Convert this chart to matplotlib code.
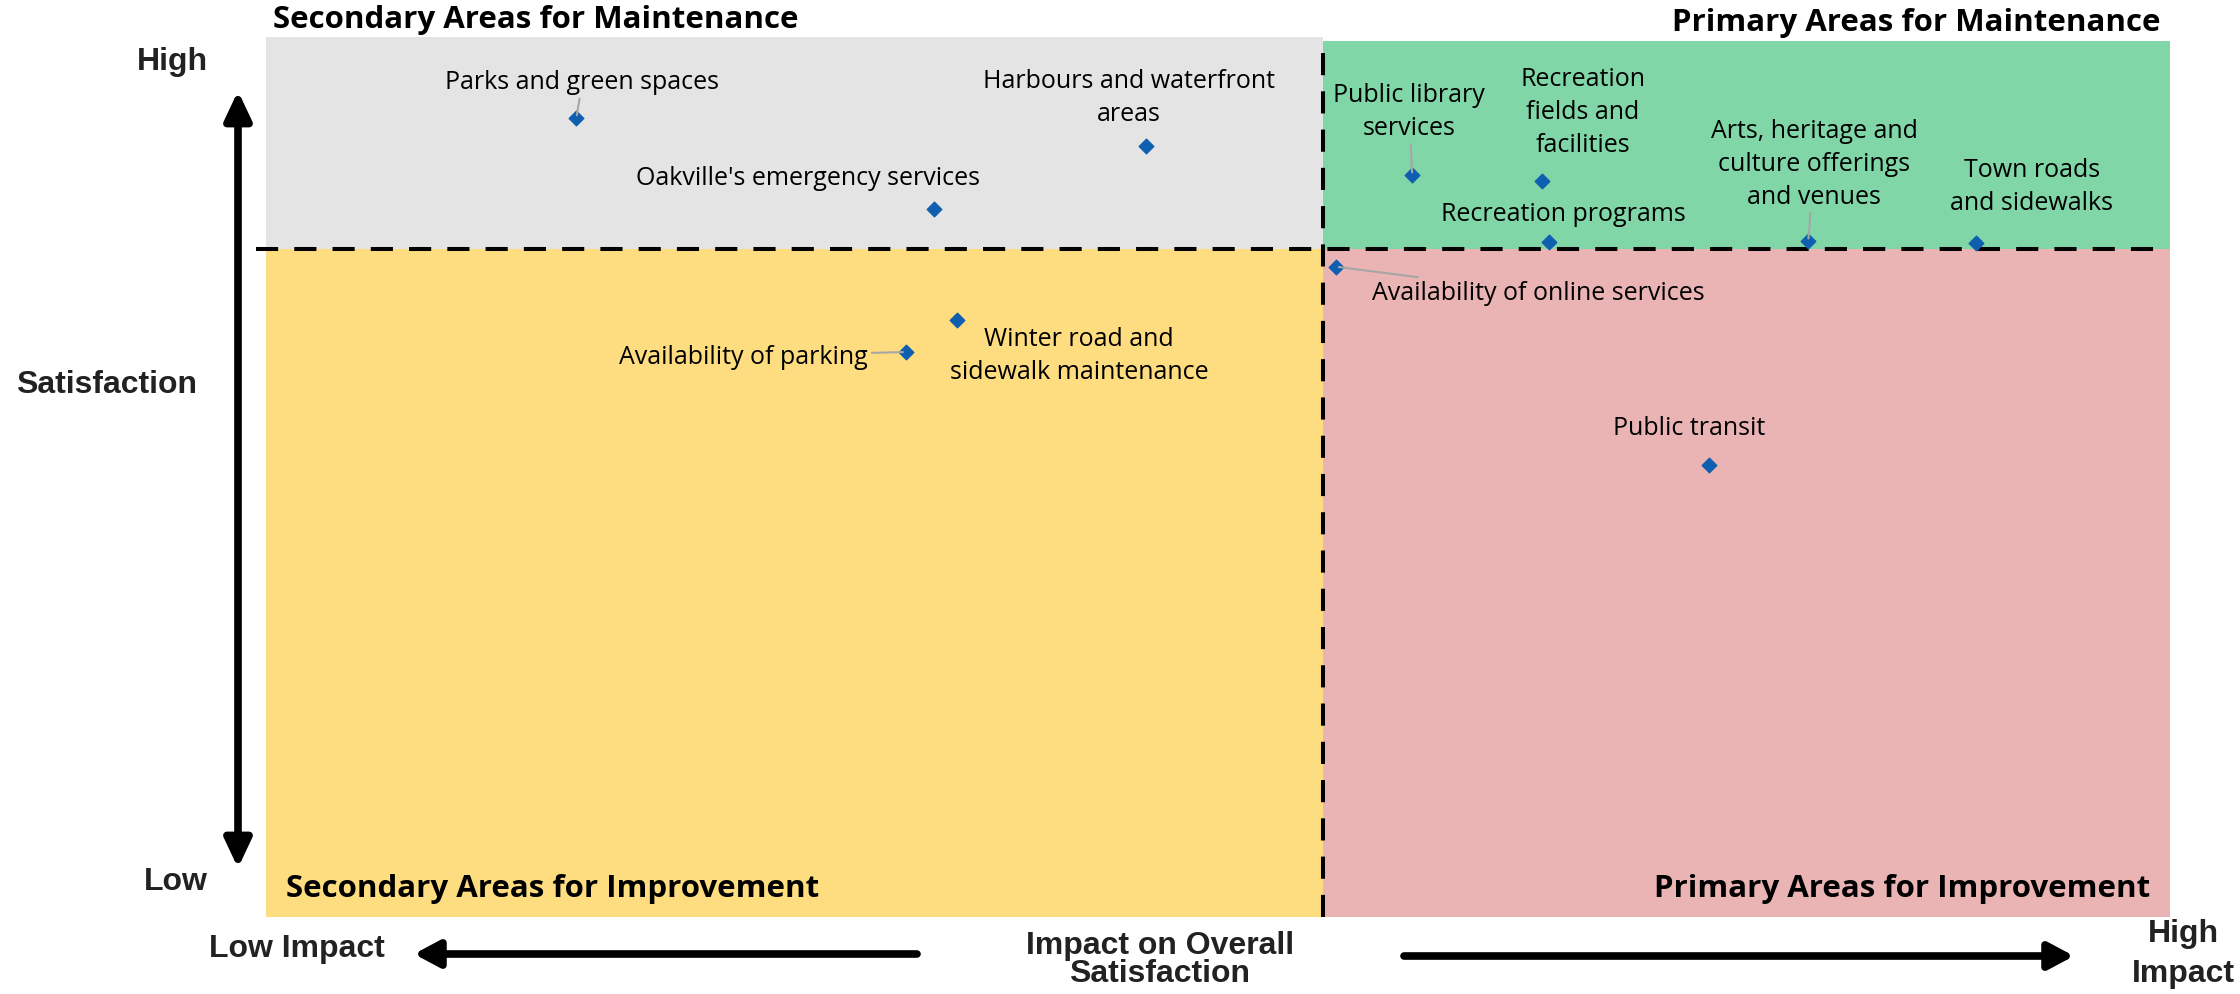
import numpy as np
import matplotlib
matplotlib.use("Agg")
import matplotlib.pyplot as plt
from matplotlib.patches import Rectangle, FancyArrowPatch

plt.rcParams['font.family'] = ['Open Sans', 'DejaVu Sans']

# services, impact on overall satisfaction (0-100) and satisfaction (0-100)
services = ["Parks and green spaces", "Harbours and waterfront\nareas",
            "Oakville's emergency services", "Availability of parking",
            "Winter road and\nsidewalk maintenance", "Public library\nservices",
            "Recreation\nfields and\nfacilities", "Recreation programs",
            "Arts, heritage and\nculture offerings\nand venues",
            "Town roads\nand sidewalks", "Availability of online services",
            "Public transit"]
impact = [16.3, 46.2, 35.1, 33.6, 36.3, 60.2, 67.0, 67.4, 81.0, 89.8, 56.2, 75.8]
satisfaction = [90.8, 87.6, 80.5, 64.2, 67.8, 84.3, 83.6, 76.7, 76.8, 76.6, 73.9, 51.4]

impact_split = 55.5
satisfaction_split = 75.9

quadrants = ["Secondary Areas for Maintenance", "Primary Areas for Maintenance",
             "Secondary Areas for Improvement", "Primary Areas for Improvement"]

# label placement (pixel offsets from marker), alignment, leader line
label_style = [
    ((6, 36), 'center', True),
    ((-17, 49), 'center', False),
    ((-126, 31), 'center', False),
    ((-38, -4), 'right', True),
    ((122, -35), 'center', False),
    ((-3, 64), 'center', True),
    ((41, 70), 'center', False),
    ((14, 29), 'center', False),
    ((6, 78), 'center', True),
    ((56, 57), 'center', False),
    ((36, -26), 'left', True),
    ((-20, 37), 'center', False),
]

W, H = 2240, 995
fig = plt.figure(figsize=(W / 100, H / 100), dpi=100)
ax = fig.add_axes([266 / W, 1 - 918 / H, (2170 - 266) / W, (918 - 38) / H])
ax.set_xlim(0, 100)
ax.set_ylim(0, 100)
ax.axis('off')

ax.add_patch(Rectangle((0, satisfaction_split), impact_split, 100 - satisfaction_split,
                       color='#E4E4E4', lw=0, zorder=0))
ax.add_patch(Rectangle((impact_split, satisfaction_split), 100 - impact_split, 99.6 - satisfaction_split,
                       color='#80D6A7', lw=0, zorder=0))
ax.add_patch(Rectangle((0, 0), impact_split, satisfaction_split,
                       color='#FEDD80', lw=0, zorder=0))
ax.add_patch(Rectangle((impact_split, 0), 100 - impact_split, satisfaction_split,
                       color='#EAB4B4', lw=0, zorder=0))

hl, = ax.plot([-0.5, 99.8], [satisfaction_split] * 2, color='black', lw=2.9, zorder=1, clip_on=False)
vl, = ax.plot([impact_split] * 2, [0, 100], color='black', lw=2.9, zorder=1, clip_on=False)
hl.set_dashes([5.5, 4])
vl.set_dashes([5.5, 4])

ax.scatter(impact, satisfaction, marker='D', s=55, color='#0F5FB0', zorder=3, clip_on=False)

for name, x, y, (off, ha, leader) in zip(services, impact, satisfaction, label_style):
    kw = {}
    if leader:
        kw['arrowprops'] = dict(arrowstyle='-', color='#A6A6A6', lw=1.5, shrinkA=1, shrinkB=2)
    ax.annotate(name, (x, y), xytext=off, textcoords='offset pixels',
                ha=ha, va='center', fontsize=18, linespacing=1.42, color='black',
                zorder=4, **kw)

# quadrant titles
title_kw = dict(fontsize=22.5, fontweight='bold', va='center')
fig.text(273 / W, 1 - 20 / H, quadrants[0], ha='left', **title_kw)
fig.text(2160 / W, 1 - 23 / H, quadrants[1], ha='right', **title_kw)
fig.text(286 / W, 1 - 889 / H, quadrants[2], ha='left', **title_kw)
fig.text(2150 / W, 1 - 889 / H, quadrants[3], ha='right', **title_kw)

# axis captions
axis_font = dict(family=['Liberation Sans', 'DejaVu Sans'], fontweight='bold', fontsize=23,
                 color='#222222')
fig.text(172 / W, 1 - 62 / H, "High", ha='center', va='center', **axis_font)
fig.text(176 / W, 1 - 882 / H, "Low", ha='center', va='center', **axis_font)
fig.text(107 / W, 1 - 385 / H, "Satisfaction", ha='center', va='center', **axis_font)
fig.text(297 / W, 1 - 949 / H, "Low Impact", ha='center', va='center', **axis_font)
fig.text(1160 / W, 1 - 960 / H, "Impact on Overall\nSatisfaction", ha='center', va='center',
         linespacing=0.92, **axis_font)
fig.text(2183 / W, 1 - 954 / H, "High\nImpact", ha='center', va='center', linespacing=1.4, **axis_font)

# arrows
arrow_kw = dict(color='black', lw=5.5, mutation_scale=20, shrinkA=0, shrinkB=0,
                transform=fig.transFigure)
fig.add_artist(FancyArrowPatch((238 / W, 1 - 92 / H), (238 / W, 1 - 869 / H),
                               arrowstyle='<|-|>,head_length=0.85,head_width=0.4', **arrow_kw))
fig.add_artist(FancyArrowPatch((917 / W, 1 - 955 / H), (414 / W, 1 - 955 / H),
                               arrowstyle='-|>,head_length=0.75,head_width=0.4', **arrow_kw))
fig.add_artist(FancyArrowPatch((1404 / W, 1 - 957 / H), (2074 / W, 1 - 957 / H),
                               arrowstyle='-|>,head_length=0.75,head_width=0.4', **arrow_kw))

fig.savefig("out.png", dpi=100)
